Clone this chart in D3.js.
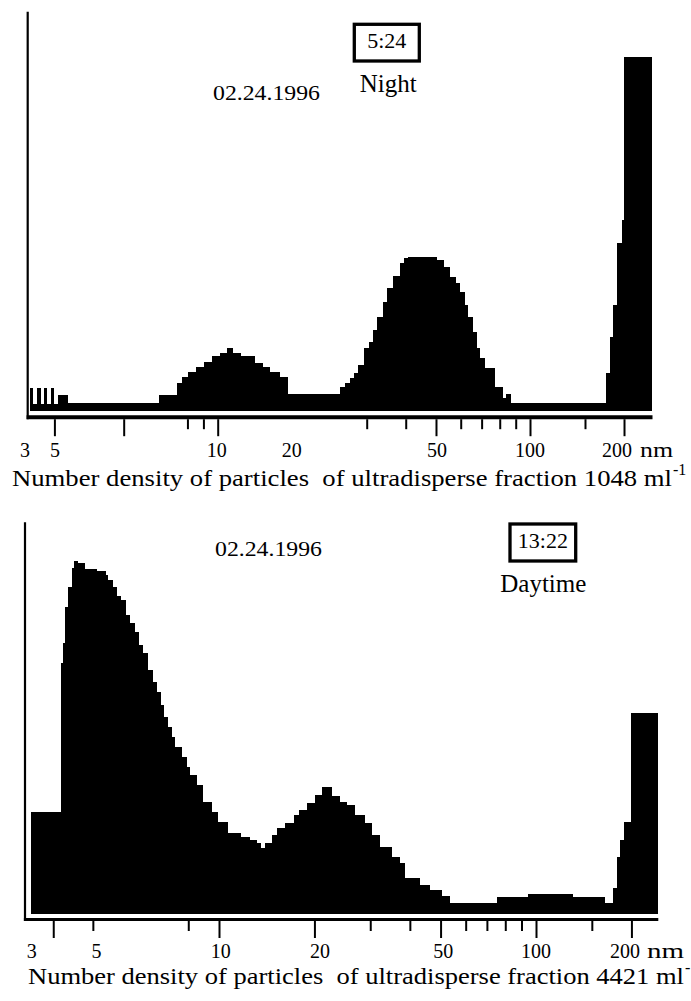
<!DOCTYPE html>
<html>
<head>
<meta charset="utf-8">
<script src="https://cdn.jsdelivr.net/npm/d3@7"></script>
<style>
  body { margin: 0; background: #fff; }
  svg { display: block; }
  svg text { font-family: "Liberation Serif", "DejaVu Serif", serif; fill: #000; }
</style>
</head>
<body>
<svg width="691" height="1001" font-family="Liberation Serif, DejaVu Serif, serif"></svg>
<script>
// Night spectrum, 02.24.1996 5:24 — bin edges (nm) and relative number density per bin
const nightEdges = [2.50, 2.56, 2.64, 2.71, 2.78, 2.85, 2.93, 3.00, 3.08, 3.32,
  6.50, 7.42, 7.67, 8.05, 8.52, 9.04, 9.57, 10.2, 10.7, 11.2,
  11.9, 13.2, 14.0, 14.7, 15.8, 16.8, 24.6, 25.6, 26.5, 27.3,
  28.2, 29.3, 30.4, 31.5, 32.3, 33.8, 34.8, 36.5, 38.4, 39.5,
  40.8, 50.3, 53.0, 55.4, 57.9, 59.7, 61.9, 63.4, 65.8, 67.5,
  69.2, 71.8, 77.3, 82.1, 83.6, 86.7, 175, 180, 185, 190,
  197, 200, 245];
const nightDensity = [23, 7, 23, 7, 23, 7, 23, 7, 16,
  7.5, 16, 28, 34, 39, 44, 49, 55, 58, 63,
  58, 55, 48, 44, 39, 34, 17, 24, 28, 33,
  38, 46, 63, 69, 81, 94, 109, 123, 135, 148,
  153, 154, 151, 144, 134, 128, 119, 106, 94, 79,
  63, 53, 43, 24, 13, 17, 8, 38, 74, 106,
  168, 191, 354];

// Daytime spectrum, 02.24.1996 13:22
const dayEdges = [2.55, 3.17, 3.21, 3.27, 3.35, 3.43, 3.49, 3.60, 3.78, 4.11,
  4.40, 4.48, 4.64, 4.76, 4.90, 5.09, 5.24, 5.43, 5.61, 5.77,
  5.98, 6.18, 6.36, 6.55, 6.71, 6.92, 7.09, 7.26, 7.63, 7.91,
  8.10, 8.51, 8.92, 9.48, 9.95, 10.7, 11.7, 12.5, 13.2, 13.6,
  14.0, 14.7, 15.2, 16.2, 17.2, 17.9, 18.9, 20.1, 21.1, 22.7,
  24.1, 25.3, 26.9, 28.9, 30.3, 32.2, 35.1, 37.2, 38.6, 43.1,
  46.3, 50.4, 53.6, 75.2, 94.6, 131, 165, 175, 180, 184,
  189, 199, 243];
const dayDensity = [102, 251, 271, 307, 327, 346, 353, 351, 345,
  343, 339, 334, 327, 318, 314, 299, 291, 282, 269,
  261, 244, 232, 222, 209, 197, 187, 177, 167, 157,
  147, 139, 129, 112, 102, 92, 81, 77, 74, 71,
  66, 71, 79, 86, 91, 99, 104, 111, 119, 127,
  118, 112, 109, 99, 91, 79, 67, 57, 51, 36,
  29, 24, 18, 11, 17, 20, 17, 11, 26, 57,
  74, 92, 201];

const tickLabels = [3, 5, 10, 20, 50, 100, 200];
const nightTicks = [3, 5, 8, 9, 10, 30, 40, 50, 60, 70, 80, 90, 100, 150, 200];
const nightLongTicks = [3, 5, 10, 50, 100, 200];
const dayTicks = [3, 4, 8, 10, 20, 30, 40, 50, 60, 70, 80, 90, 100, 150, 200];
const dayLongTicks = [3, 10, 20, 50, 100, 200];

const FONT = "Liberation Serif, DejaVu Serif, serif";
const svg = d3.select("svg");

const panels = [
  {
    edges: nightEdges, density: nightDensity, ticks: nightTicks, longTicks: nightLongTicks,
    date: "02.24.1996", time: "5:24", period: "Night", total: "1048",
    x10: 217.7, x100: 530, left: 27.7, right: 652.5, top: 11.7, base: 410.5, axisY: 417.2, axisW: 4,
    labelY: 457, labelNudge: [-29.4, -68.7, -1, -20, 1, 0, -7], nmX: 640, nmW: 33,
    dateX: 213, dateY: 100, box: [354.3, 24.3, 65, 36.7], timeY: 48, periodX: 388.3, periodY: 91.7,
    titleX: 12, titleY: 486, titleW: 660
  },
  {
    edges: dayEdges, density: dayDensity, ticks: dayTicks, longTicks: dayLongTicks,
    date: "02.24.1996", time: "13:22", period: "Daytime", total: "4421",
    x10: 219, x100: 536, left: 25, right: 658.3, top: 522.3, base: 914, axisY: 919.5, axisW: 3,
    labelY: 957.7, labelNudge: [-21.5, -27, 1.7, 5.6, 2.7, 0, -6.4], nmX: 647, nmW: 37,
    dateX: 215, dateY: 555.7, box: [510, 524, 65.7, 37], timeY: 548.3, periodX: 543.3, periodY: 591.7,
    titleX: 28, titleY: 984, titleW: 656
  }
];

panels.forEach(p => drawPanel(p));

function drawPanel(p) {
  const x = d3.scaleLog().domain([10, 100]).range([p.x10, p.x100]);
  const y = d3.scaleLinear().domain([0, 400]).range([p.base, p.base - 400]);
  const g = svg.append("g").attr("font-family", FONT);

  // step histogram
  const pts = p.edges.map((e, i) => ({ e, v: p.density[Math.min(i, p.density.length - 1)] }));
  const area = d3.area()
    .curve(d3.curveStepAfter)
    .x(d => x(d.e))
    .y0(y(0))
    .y1(d => y(d.v));
  g.append("path")
    .datum(pts)
    .attr("d", area)
    .attr("fill", "#000")
    .attr("shape-rendering", "crispEdges");

  // frame
  g.append("line")
    .attr("x1", p.left).attr("x2", p.left)
    .attr("y1", p.top).attr("y2", p.axisY + p.axisW / 2)
    .attr("stroke", "#000").attr("stroke-width", 2.2);
  g.append("line")
    .attr("x1", p.left - 1.1).attr("x2", p.right)
    .attr("y1", p.axisY).attr("y2", p.axisY)
    .attr("stroke", "#000").attr("stroke-width", p.axisW);

  // ticks
  const axis = d3.axisBottom(x).tickValues(p.ticks).tickFormat("").tickSizeOuter(0).tickSizeInner(10);
  const ag = g.append("g")
    .attr("transform", `translate(0,${p.axisY + p.axisW / 2})`)
    .call(axis);
  ag.select(".domain").remove();
  ag.selectAll(".tick line")
    .attr("stroke", "#000")
    .attr("stroke-width", 2)
    .attr("y2", d => p.longTicks.includes(d) ? 17 : 10);

  const txt = (sel) => sel.attr("font-family", FONT).attr("fill", "#000");

  g.selectAll(".lbl")
    .data(tickLabels)
    .join("text")
    .attr("class", "lbl")
    .call(txt)
    .attr("x", (d, i) => x(d) + p.labelNudge[i])
    .attr("y", p.labelY)
    .attr("text-anchor", "middle")
    .attr("font-size", 20)
    .text(d => d);
  g.append("text")
    .call(txt)
    .attr("x", p.nmX).attr("y", p.labelY)
    .attr("font-size", 20)
    .attr("textLength", p.nmW).attr("lengthAdjust", "spacingAndGlyphs")
    .text("nm");

  // axis title
  g.append("text")
    .call(txt)
    .attr("x", p.titleX).attr("y", p.titleY)
    .attr("font-size", 22.5)
    .attr("textLength", p.titleW).attr("lengthAdjust", "spacingAndGlyphs")
    .attr("xml:space", "preserve")
    .text(`Number density of particles  of ultradisperse fraction ${p.total} ml`);
  g.append("text")
    .call(txt)
    .attr("x", p.titleX + p.titleW + 1).attr("y", p.titleY - 11)
    .attr("font-size", 16)
    .text("-1");

  // annotations
  g.append("text")
    .call(txt)
    .attr("x", p.dateX).attr("y", p.dateY)
    .attr("font-size", 21)
    .attr("textLength", 107).attr("lengthAdjust", "spacingAndGlyphs")
    .text(p.date);
  g.append("rect")
    .attr("x", p.box[0]).attr("y", p.box[1])
    .attr("width", p.box[2]).attr("height", p.box[3])
    .attr("fill", "none").attr("stroke", "#000").attr("stroke-width", 3.3);
  g.append("text")
    .call(txt)
    .attr("x", p.box[0] + p.box[2] / 2).attr("y", p.timeY)
    .attr("text-anchor", "middle")
    .attr("font-size", 22)
    .text(p.time);
  g.append("text")
    .call(txt)
    .attr("x", p.periodX).attr("y", p.periodY)
    .attr("text-anchor", "middle")
    .attr("font-size", 25)
    .text(p.period);
}
</script>
</body>
</html>
